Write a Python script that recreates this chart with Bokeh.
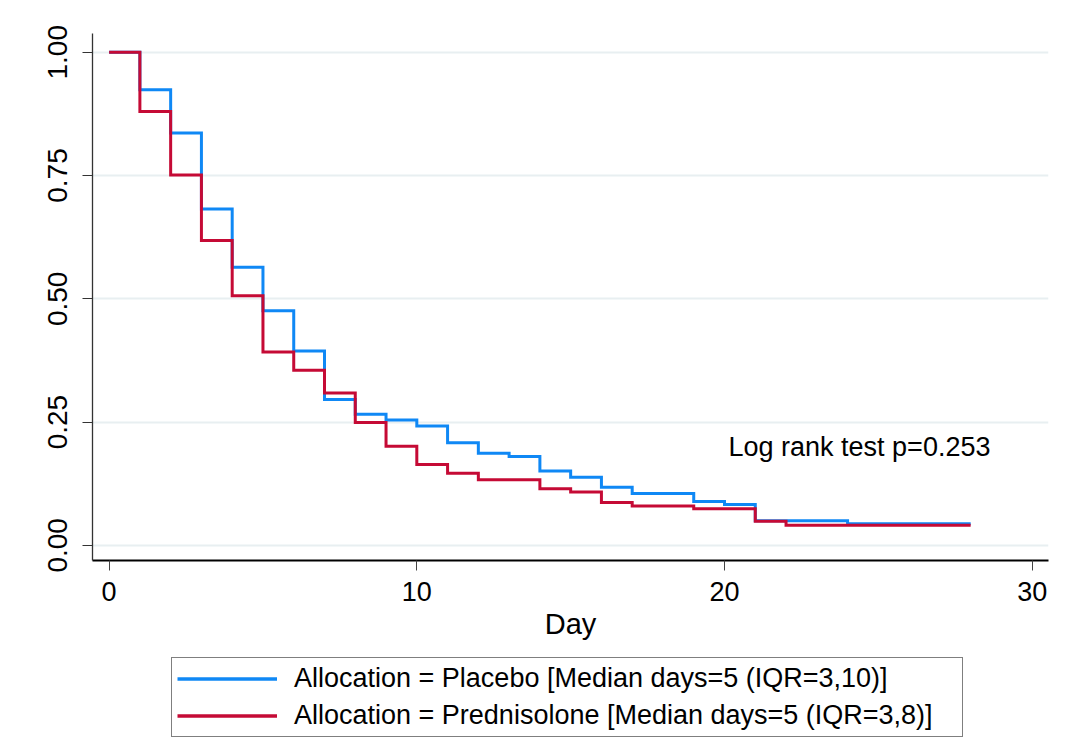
from bokeh.plotting import figure
from bokeh.layouts import column
from bokeh.models import (Range1d, FixedTicker, Legend, LegendItem, Label)
from bokeh.embed import file_html
from bokeh.resources import INLINE

# ---- data ----
days = list(range(0, 29))
placebo = [1.000, 0.924, 0.836, 0.682, 0.564, 0.476, 0.394, 0.296, 0.266, 0.254,
           0.242, 0.208, 0.187, 0.180, 0.151, 0.138, 0.118, 0.105, 0.105, 0.089,
           0.083, 0.050, 0.050, 0.050, 0.044, 0.044, 0.044, 0.044, 0.044]
prednisolone = [1.000, 0.880, 0.751, 0.618, 0.506, 0.392, 0.355, 0.309, 0.249, 0.201,
                0.164, 0.146, 0.133, 0.133, 0.115, 0.108, 0.087, 0.080, 0.080, 0.074,
                0.074, 0.049, 0.041, 0.041, 0.041, 0.041, 0.041, 0.041, 0.041]
x_ticks = [0, 10, 20, 30]
y_ticks = [0, 0.25, 0.5, 0.75, 1.0]
y_tick_labels = ["0.00", "0.25", "0.50", "0.75", "1.00"]
label_placebo = "Allocation = Placebo [Median days=5 (IQR=3,10)]"
label_pred = "Allocation = Prednisolone [Median days=5 (IQR=3,8)]"
annotation = "Log rank test p=0.253"

FONT = "Liberation Sans"
BLUE = "#0f88f5"
RED = "#c50a35"

p = figure(width=1051, height=650, output_backend="svg", toolbar_location=None,
           x_range=Range1d(-0.54, 30.53), y_range=Range1d(-0.0307, 1.038),
           min_border_left=92, min_border_right=3, min_border_top=33,
           min_border_bottom=90)
p.outline_line_color = None
p.background_fill_color = "white"
p.border_fill_color = "white"

# grid
p.xgrid.visible = False
p.ygrid.ticker = FixedTicker(ticks=y_ticks)
p.ygrid.grid_line_color = "#e8eff1"
p.ygrid.grid_line_width = 2

# x axis
xa = p.xaxis[0]
xa.ticker = FixedTicker(ticks=x_ticks)
xa.axis_line_color = "black"
xa.axis_line_width = 2
xa.major_tick_line_color = "#444444"
xa.major_tick_out = 10
xa.major_tick_in = 0
xa.minor_tick_line_color = None
xa.major_label_standoff = 11
xa.major_label_text_font = FONT
xa.major_label_text_font_size = "27px"
xa.major_label_text_color = "black"
xa.axis_label = "Day"
xa.axis_label_text_font = FONT
xa.axis_label_text_font_size = "29px"
xa.axis_label_text_font_style = "normal"
xa.axis_label_text_color = "black"
xa.axis_label_standoff = 4

# y axis
ya = p.yaxis[0]
ya.ticker = FixedTicker(ticks=y_ticks)
ya.major_label_overrides = {t: s for t, s in zip(y_ticks, y_tick_labels)}
ya.axis_line_color = "#333333"
ya.axis_line_width = 1.3
ya.major_tick_line_color = "#333333"
ya.major_tick_out = 10
ya.major_tick_in = 0
ya.minor_tick_line_color = None
ya.major_label_orientation = "vertical"
ya.major_label_standoff = 15
ya.major_label_text_font = FONT
ya.major_label_text_font_size = "28px"
ya.major_label_text_color = "black"

# curves
p.step(days, placebo, mode="after", line_color=BLUE, line_width=3,
       line_join="miter")
p.step(days, prednisolone, mode="after", line_color=RED, line_width=3,
       line_join="miter")

p.add_layout(Label(x=20.13, y=0.199, text=annotation, text_font=FONT,
                   text_font_size="27px", text_color="black",
                   text_baseline="alphabetic"))

# ---- legend figure below the chart ----
lg = figure(width=1051, height=89, output_backend="svg", toolbar_location=None,
            x_range=Range1d(0, 1), y_range=Range1d(0, 1),
            min_border=0, min_border_left=0, min_border_right=0,
            min_border_top=0, min_border_bottom=0)
lg.axis.visible = False
lg.grid.visible = False
lg.outline_line_color = None
lg.background_fill_color = "white"
lg.border_fill_color = "white"
# key-only renderers (their single point lies outside the visible range)
k_blue = lg.line(x=[0.5], y=[5], line_color=BLUE, line_width=3.5)
k_red = lg.line(x=[0.5], y=[5], line_color=RED, line_width=3.5)

legend = Legend(items=[LegendItem(label=label_placebo, renderers=[k_blue]),
                       LegendItem(label=label_pred, renderers=[k_red])],
                location=(79, 2), orientation="vertical",
                border_line_color="black", border_line_width=1.5,
                background_fill_color="white", background_fill_alpha=1.0,
                padding=5, spacing=6, margin=0,
                glyph_width=100, glyph_height=31, label_height=31,
                label_standoff=17, label_width=663,
                label_text_font=FONT, label_text_font_size="27px",
                label_text_color="black")
lg.add_layout(legend)

layout = column(p, lg, spacing=0)
open("out.html", "w").write(file_html(layout, INLINE))
